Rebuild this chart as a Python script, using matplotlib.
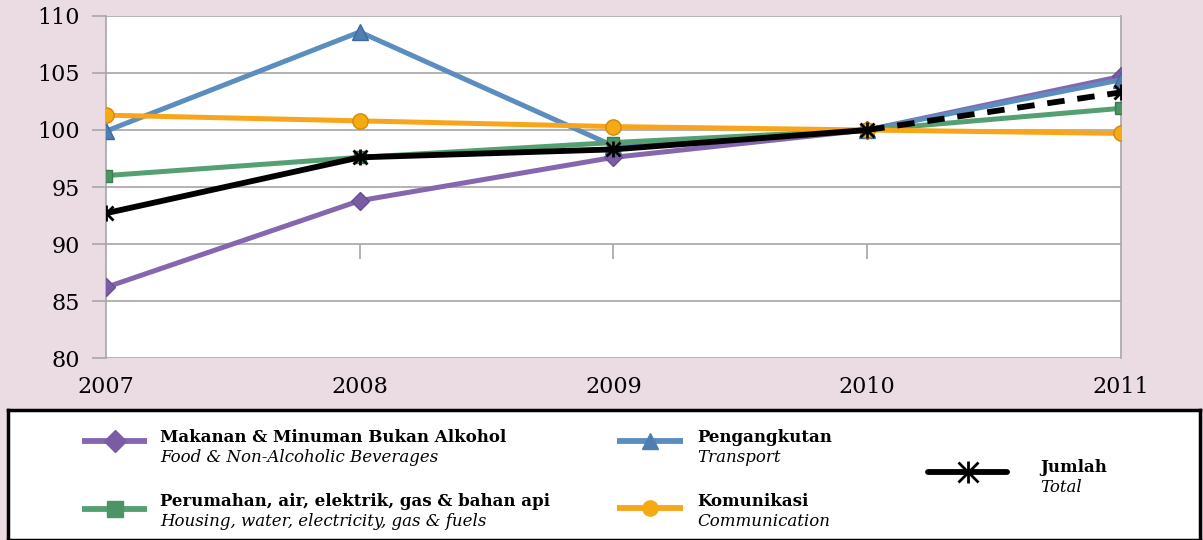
import matplotlib
matplotlib.use("Agg")
import matplotlib.pyplot as plt
from matplotlib.lines import Line2D

# ── Data ───────────────────────────────────────────────────────────
years = [2007, 2008, 2009, 2010, 2011]
food = [86.2, 93.8, 97.6, 100.0, 104.7]
transport = [99.9, 108.6, 98.6, 100.0, 104.4]
housing = [96.0, 97.6, 98.9, 100.0, 101.9]
comm = [101.3, 100.8, 100.3, 100.0, 99.7]
total = [92.7, 97.6, 98.3, 100.0, 103.3]

y_ticks = [80, 85, 90, 95, 100, 105, 110]

labels_my = ["Makanan & Minuman Bukan Alkohol", "Pengangkutan",
             "Perumahan, air, elektrik, gas & bahan api", "Komunikasi", "Jumlah"]
labels_en = ["Food & Non-Alcoholic Beverages", "Transport",
             "Housing, water, electricity, gas & fuels", "Communication", "Total"]

# ── Colours ────────────────────────────────────────────────────────
BG = "#EBDCE3"
C_FOOD = "#8567AF"
C_TRANS = "#5B8DBF"
C_HOUSE = "#55A072"
C_COMM = "#F8A51B"
C_TOTAL = "#000000"
GRID = "#A6A6A6"

plt.rcParams["font.family"] = "DejaVu Serif"

fig = plt.figure(figsize=(12.03, 5.40), dpi=100)
fig.patch.set_facecolor(BG)
ax = fig.add_axes([0.0881, 0.337, 0.8437, 0.6334])
ax.set_facecolor("white")

LW = 3.6
MS = 10


def asterisk(axis, x, y, ms, zorder=5):
    # Excel-style star: an "x" with a vertical bar through it
    axis.plot(x, y, ls="none", marker="x", ms=ms, mew=2, color="black", zorder=zorder)
    axis.plot(x, y, ls="none", marker="|", ms=ms + 2, mew=2, color="black", zorder=zorder)


ax.plot(years, food, color=C_FOOD, lw=LW, marker="D", ms=MS - 1,
        markerfacecolor="#7A5BA6", markeredgecolor="#6A4E92", mew=1, zorder=3)
ax.plot(years, transport, color=C_TRANS, lw=LW, marker="^", ms=MS + 1,
        markerfacecolor="#4F7FB2", markeredgecolor="#3E6A99", mew=1, zorder=3)
ax.plot(years, housing, color=C_HOUSE, lw=LW, marker="s", ms=MS - 1,
        markerfacecolor="#4C9465", markeredgecolor="#3D7A52", mew=1, zorder=3)
ax.plot(years, comm, color=C_COMM, lw=LW, marker="o", ms=MS + 1,
        markerfacecolor="#F4AA12", markeredgecolor="#D08A08", mew=1, zorder=4)
# Jumlah: solid to 2010, dashed 2010-2011
ax.plot(years[:4], total[:4], color=C_TOTAL, lw=LW + 0.6, zorder=5)
ax.plot(years[3:], total[3:], color=C_TOTAL, lw=LW + 0.6, ls=(0, (3, 2.2)), zorder=5)
asterisk(ax, years, total, MS)

ax.set_xlim(years[0], years[-1])
ax.set_ylim(80, 110)
ax.set_yticks(y_ticks)
ax.set_xticks(years)
ax.yaxis.grid(True, color=GRID, lw=1.2)
ax.set_axisbelow(True)

# small category ticks hanging under the 90 gridline (Excel artefact)
ax.vlines(years[1:4], 88.7, 90, color=GRID, lw=1.2, zorder=1)

ax.tick_params(axis="y", length=10, color=GRID, width=1.2, labelsize=16,
               pad=9)
ax.tick_params(axis="x", length=0, labelsize=16, pad=13)
for s in ["left", "right"]:
    ax.spines[s].set_color(GRID)
    ax.spines[s].set_linewidth(1.2)
for s in ["top", "bottom"]:
    ax.spines[s].set_visible(False)

# ── Legend box ─────────────────────────────────────────────────────
lg = fig.add_axes([8 / 1203, 0.0, 1192 / 1203, 130 / 540])
lg.set_xlim(8, 1200)
lg.set_ylim(540, 410)
lg.set_xticks([])
lg.set_yticks([])
lg.set_facecolor("white")
for s in lg.spines.values():
    s.set_linewidth(2.5)
    s.set_color("black")

entries = [
    (C_FOOD, "D", "#7A5BA6", 82, 147, 441, 160, 438),
    (C_TRANS, "^", "#4F7FB2", 617, 683, 441, 697, 438),
    (C_HOUSE, "s", "#4C9465", 82, 147, 509, 160, 502),
    (C_COMM, "o", "#F4AA12", 617, 683, 508, 697, 502),
    (C_TOTAL, None, "black", 928, 1007, 472, 1040, 468),
]
for i, (col, mk, mfc, x0, x1, yl, xt, yt) in enumerate(entries):
    lg.add_line(Line2D([x0, x1], [yl, yl], color=col, lw=LW + 0.6,
                       solid_capstyle="round" if mk is None else "butt"))
    xm = (x0 + x1) / 2
    if mk is None:
        asterisk(lg, [xm], [yl], MS + 4)
    else:
        lg.add_line(Line2D([xm], [yl], marker=mk, ms=MS + 1,
                           markerfacecolor=mfc, markeredgecolor=mfc,
                           mew=1, lw=0))
    lg.text(xt, yt, labels_my[i], fontsize=12, fontweight="bold",
            va="center", ha="left")
    lg.text(xt, yt + 20, labels_en[i], fontsize=12, style="italic",
            va="center", ha="left")

fig.savefig("out.png", dpi=100, facecolor=fig.get_facecolor())
